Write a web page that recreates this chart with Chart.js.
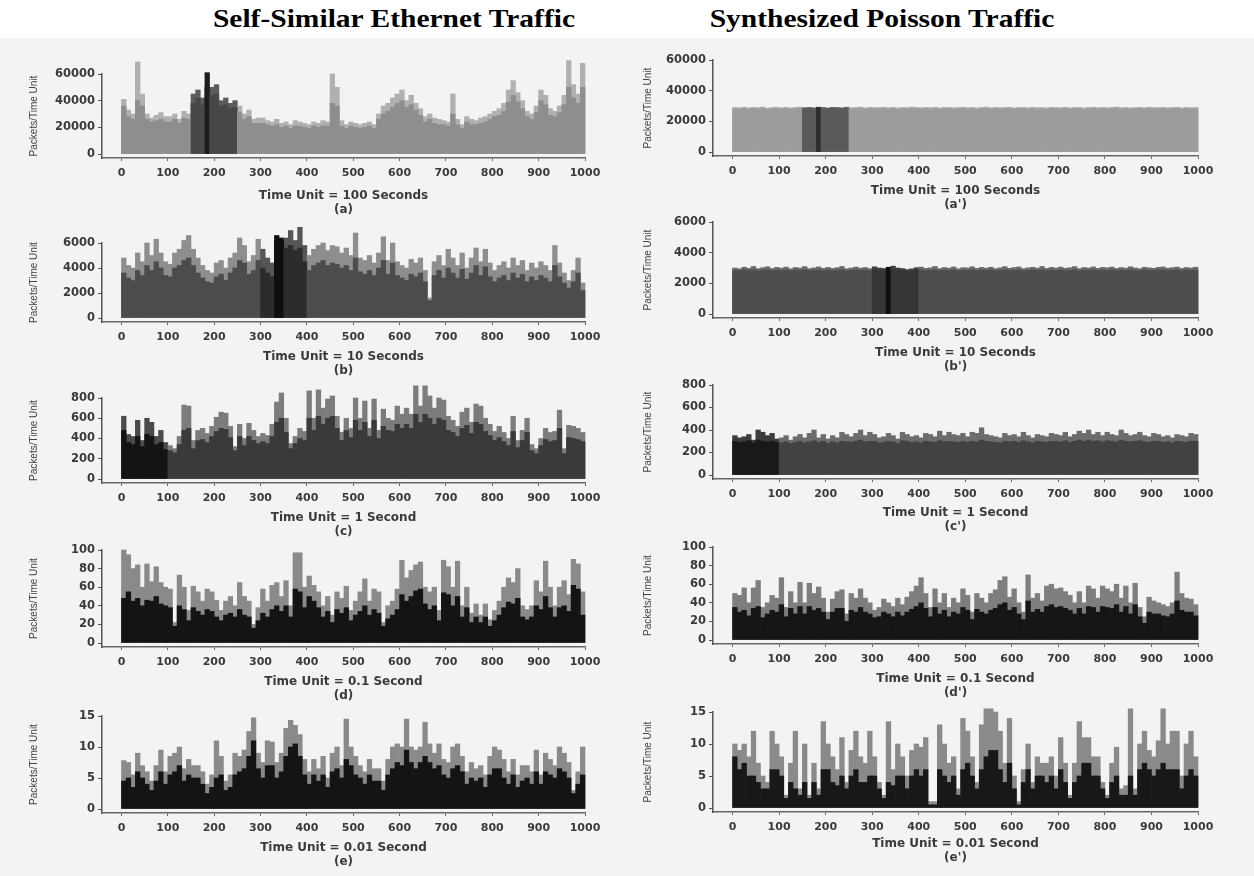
<!DOCTYPE html>
<html>
<head>
<meta charset="utf-8">
<script src="https://cdn.jsdelivr.net/npm/chart.js@4.4.1/dist/chart.umd.min.js"></script>
<style>
  body { margin: 0; width: 1254px; height: 876px; background: #f3f3f3; position: relative; overflow: hidden; }
  .hdr { position: absolute; left: 0; top: 0; width: 1254px; height: 38px; background: #fff; }
  .ttl { position: absolute; top: 7px; width: 420px; text-align: center; font: bold 25px/24px "Liberation Serif", "Times New Roman", serif; color: #000; transform: scaleX(1.18); }
  canvas { position: absolute; }
</style>
</head>
<body>
<div class="hdr"></div>
<div class="ttl" style="left:184px">Self-Similar Ethernet Traffic</div>
<div class="ttl" style="left:672px">Synthesized Poisson Traffic</div>
<script>
// x tick labels, shared by every panel
const xTicks = [0, 100, 200, 300, 400, 500, 600, 700, 800, 900, 1000];

// y tick labels per time scale
const ticks100s = [0, 20000, 40000, 60000];
const ticks10s = [0, 2000, 4000, 6000];
const ticks1s = [0, 200, 400, 600, 800];
const ticks01s = [0, 20, 40, 60, 80, 100];
const ticks001s = [0, 5, 10, 15];

// ---- Self-similar Ethernet traffic (peak of each 10-unit bin, and its typical level) ----
const aPeak = [
  41000,33000,30000,69000,45000,30000,27000,29000,31000,28000,
  28000,30000,26000,32000,30000,45000,48000,42000,61000,50000,
  52000,40000,42000,38000,40000,36000,30000,33000,26000,27000,
  27000,25000,24000,26000,23000,24000,22000,25000,24000,23000,
  22000,24000,23000,25000,24000,60000,50000,25000,22000,24000,
  23000,22000,23000,24000,22000,30000,36000,38000,42000,45000,
  48000,40000,44000,38000,34000,28000,30000,27000,26000,25000,
  24000,45000,26000,22000,28000,26000,25000,27000,28000,30000,
  32000,34000,38000,48000,55000,46000,40000,32000,30000,36000,
  48000,44000,34000,32000,36000,44000,70000,52000,45000,68000
];
const aBody = [
  36000,28000,26000,40000,36000,26000,24000,25000,26000,24000,
  24000,26000,23000,27000,26000,38000,42000,37000,50000,44000,
  45000,36000,37000,34000,35000,31000,26000,28000,23000,23000,
  23000,22000,21000,22000,20000,21000,19000,21000,21000,20000,
  19000,21000,20000,21000,21000,38000,36000,21000,19000,21000,
  20000,19000,20000,21000,19000,26000,30000,32000,35000,38000,
  40000,35000,37000,33000,29000,24000,26000,23000,22000,22000,
  21000,30000,22000,19000,24000,22000,22000,23000,24000,26000,
  28000,29000,32000,39000,44000,39000,34000,28000,26000,31000,
  40000,37000,29000,28000,31000,37000,50000,42000,38000,50000
];
const bPeak = [
  4800,4200,4000,5200,4500,6000,5000,6300,5200,4500,
  4300,5200,5500,6200,6600,5500,4800,4200,3800,3600,
  4400,4600,4000,4800,5200,6400,5800,4500,5000,6300,
  5500,4800,4400,6600,6400,6400,7000,6200,7700,5800,
  5000,5500,5800,6000,5400,5800,5700,5200,5600,5000,
  6800,4800,4600,5000,4400,5200,6500,4600,6000,4500,
  4200,4000,4700,4400,4800,3800,1600,4500,5000,4200,
  5500,4800,4200,5200,4000,4800,5600,4500,5500,4400,
  3800,4200,4500,4000,4800,4200,4600,3800,4400,4000,
  4500,4200,3800,5800,4400,3600,3000,3800,4800,2800
];
const bBody = [
  3600,3200,3000,3800,3400,4200,3800,4500,4000,3400,
  3300,4000,4200,4600,4800,4200,3600,3200,2900,2800,
  3300,3500,3000,3600,4000,4600,4400,3500,3800,4600,
  4000,3600,3300,6200,6200,5600,5800,5400,5600,4500,
  3800,4200,4400,4600,4200,4400,4300,4000,4200,3800,
  4800,3700,3500,3800,3400,4000,4600,3500,4400,3400,
  3200,3000,3500,3300,3600,2900,1400,3400,3800,3200,
  4000,3600,3200,3900,3100,3600,4200,3400,4100,3300,
  2900,3200,3400,3000,3600,3200,3500,2900,3300,3000,
  3400,3200,2900,4200,3300,2800,2400,2900,3600,2200
];
const cPeak = [
  620,440,420,580,380,600,560,420,480,360,
  330,300,420,730,720,380,480,500,450,520,
  610,660,650,520,320,540,400,550,480,420,
  450,430,540,760,850,600,350,420,500,470,
  870,600,880,700,790,820,620,460,600,500,
  800,600,770,500,790,480,690,600,580,720,
  640,700,640,920,720,920,820,700,800,780,
  620,580,520,660,700,560,740,720,600,540,
  470,520,460,400,620,380,480,600,340,300,
  400,500,460,470,680,300,530,520,500,460
];
const cBody = [
  480,360,340,420,320,440,420,340,360,290,
  280,260,340,480,500,300,380,390,360,420,
  470,500,490,410,280,420,330,420,380,350,
  370,350,420,560,600,460,300,350,400,380,
  600,480,620,540,600,620,500,380,480,410,
  580,480,560,420,580,400,520,480,470,540,
  500,540,500,640,560,640,600,540,600,580,
  480,460,420,500,530,450,560,540,470,430,
  380,410,370,330,470,310,380,460,280,250,
  330,390,370,380,500,250,410,400,390,370
];
const dPeak = [
  100,95,80,84,60,85,66,82,65,60,
  58,22,73,60,35,61,55,45,58,55,
  46,35,45,50,40,65,50,45,20,38,
  58,45,62,65,50,67,40,97,97,60,
  72,62,55,40,50,30,55,48,61,35,
  45,55,69,45,58,55,22,40,45,58,
  89,70,78,84,87,60,55,60,35,89,
  82,60,88,40,60,32,42,30,42,25,
  35,45,60,70,65,80,40,36,40,67,
  55,88,60,40,60,67,52,90,85,55
];
const dBody = [
  48,55,45,48,40,46,45,50,42,40,
  38,18,40,36,24,38,34,30,36,34,
  28,24,30,32,28,36,30,28,16,24,
  32,28,36,40,34,40,28,58,55,38,
  50,45,38,28,34,22,36,32,38,24,
  30,34,40,30,36,32,18,26,30,36,
  52,45,50,56,58,42,36,40,24,54,
  52,40,50,28,38,22,28,22,28,18,
  24,30,38,44,42,48,28,25,28,40,
  36,50,38,28,38,40,34,62,58,30
];
const ePeak = [
  7.8,7.5,5.5,9,7,6,4.5,7,9.5,6,
  8.5,9,10,6.5,8,7,7,6,4,5.5,
  11,8.5,4.5,5.5,9,8.5,9.5,12.5,14.7,9,
  7.5,11,10.8,7.5,9,13,14.3,13.5,12,8,
  6,8,6.5,8.5,5,9,10,7,14.5,10,
  8.5,7,6,8,6.5,6.5,4.5,8,10,10.5,
  10,14.5,10,9.5,10,14,10.5,9,10.5,8,
  7.5,10,10.5,8.5,6,7.5,6.5,7,5.5,8.5,
  10,9.5,8,6,8,5.5,7,7,6,9.5,
  5.5,9,8,7,10,9,7.5,3,6,10
];
const eBody = [
  4.5,5,3.5,6,5,4,3,4.5,6,4,
  5.5,6,7,4.5,5.5,5,5,4,2.5,3.5,
  5,5.5,3,3.5,5.5,6,6.5,8.5,11,6.5,
  5,7,7,5,6,8.5,10,10.5,8.5,5.5,
  4,5.5,4.5,5.5,3.5,6,6.5,5,8,7,
  5.5,5,4,5.5,4.5,4.5,3,5.5,6.5,7.5,
  7,9.5,7.5,6.5,7.5,8.5,7.5,6.5,7,5.5,
  5,6.5,7,6,4,5,4.5,5,3.5,5.5,
  6.5,6.5,5,4,5.5,3.5,4.5,5,4,6,
  4,6,5.5,5,6.5,6,5,2.5,4,5.5
];

// ---- Synthesized Poisson traffic ----
const apPeak = [
  29000,28800,29200,28700,29100,28900,29300,28600,29000,29200,
  28800,29100,28700,29000,29300,28900,29100,28800,29200,29000,
  28700,29100,29000,28800,29200,28900,29000,29300,28700,29100,
  28900,29000,29200,28800,29100,28700,29000,28900,29300,29000,
  28800,29100,28900,29200,28700,29000,29100,28800,29000,29200,
  28900,29100,28700,29000,29300,28800,29100,28900,29000,29200,
  28700,29000,29100,28800,29200,28900,29000,28700,29100,29000,
  28900,29200,28800,29000,29100,28700,29000,29200,28900,29100,
  28800,29000,29300,28900,29100,28700,29000,29100,28800,29200,
  29000,28900,29100,28800,29000,29200,28700,29100,28900,29000
];
const apBody = [
  28000,27800,28100,27900,28200,27800,28000,27700,28100,28000,
  27900,28100,27800,28000,28200,27900,28000,27800,28100,28000,
  27800,28000,28100,27900,28200,27800,28000,28100,27900,28000,
  27800,28100,28000,27900,28200,27800,28000,27900,28100,28000,
  27900,28000,27800,28100,27900,28000,28200,27800,28000,28100,
  27900,28000,27800,28100,28200,27900,28000,27800,28100,28000,
  27800,28000,28100,27900,28100,27800,28000,27900,28100,28000,
  27900,28100,27800,28000,28100,27900,28000,28200,27800,28000,
  27900,28000,28200,27800,28100,27900,28000,28100,27800,28100,
  28000,27900,28100,27800,28000,28200,27800,28000,27900,28000
];
const bpPeak = [
  3000,2950,3050,2980,3100,2960,3020,3080,2970,3040,
  2990,3060,2950,3030,3000,3090,2960,3010,3070,2980,
  3040,2970,3020,3100,2950,3000,3060,2990,3030,2960,
  3080,3000,2970,3050,3120,3000,2960,2900,2940,3020,
  3060,2980,3010,3100,2960,3030,2990,3070,2950,3020,
  3000,3080,2970,3040,2990,3050,2960,3010,3090,2980,
  3030,3070,2960,3010,3050,2990,3100,2970,3040,3000,
  3060,2980,3020,3090,2960,3030,3000,3070,2980,3040,
  3010,3060,2970,3030,2990,3080,3000,2960,3050,3010,
  2980,3040,3070,2990,3020,3060,2970,3030,3000,3050
];
const bpBody = [
  2850,2820,2870,2840,2880,2830,2860,2870,2820,2850,
  2840,2860,2810,2870,2850,2880,2830,2850,2870,2840,
  2860,2830,2850,2880,2820,2850,2870,2840,2860,2830,
  2880,2850,2830,2860,2890,2850,2820,2780,2800,2860,
  2870,2840,2850,2880,2830,2860,2840,2870,2820,2850,
  2850,2880,2830,2860,2840,2870,2830,2850,2880,2840,
  2860,2870,2830,2850,2870,2840,2880,2830,2860,2850,
  2870,2840,2850,2880,2830,2860,2850,2870,2840,2860,
  2850,2870,2830,2860,2840,2880,2850,2830,2870,2850,
  2840,2860,2870,2840,2850,2870,2830,2860,2850,2860
];
const cpPeak = [
  350,330,340,360,310,400,380,350,370,320,
  330,350,310,340,360,330,370,400,330,360,
  320,350,330,380,360,340,370,400,350,380,
  360,330,340,370,350,320,380,360,340,350,
  330,370,360,340,390,350,380,360,350,370,
  340,380,370,420,360,350,340,330,370,350,
  360,340,380,350,330,360,350,340,370,360,
  350,380,340,360,390,370,400,360,380,350,
  380,360,350,400,370,350,360,380,350,340,
  370,360,340,350,330,360,350,340,370,360
];
const cpBody = [
  300,290,295,305,285,310,300,295,300,290,
  285,295,280,290,300,285,295,305,290,300,
  280,295,285,300,295,290,300,310,295,300,
  300,285,290,300,295,280,305,300,290,295,
  285,300,295,290,305,295,300,295,290,300,
  290,300,295,310,300,295,290,285,300,295,
  300,290,305,295,285,300,295,290,300,300,
  295,305,290,300,310,300,310,300,305,295,
  305,300,295,310,300,295,300,305,295,290,
  300,300,290,295,285,300,295,290,300,300
];
const dpPeak = [
  50,48,56,40,56,64,35,40,48,45,
  67,35,52,40,62,40,61,50,57,45,
  30,44,52,54,28,50,45,55,45,40,
  32,35,44,40,36,45,38,46,52,58,
  67,50,35,55,40,50,35,45,40,55,
  48,30,50,45,40,50,54,64,68,46,
  55,40,30,70,45,50,42,58,60,55,
  56,52,48,40,52,40,58,55,45,58,
  55,52,60,45,58,40,61,35,25,46,
  42,40,38,36,40,73,50,45,44,38
];
const dpBody = [
  35,30,32,26,34,36,24,28,32,30,
  38,25,34,28,36,28,36,32,34,30,
  22,30,34,34,20,32,30,35,30,28,
  24,25,30,28,25,30,26,30,33,36,
  40,34,25,35,28,32,25,30,28,35,
  32,22,33,30,28,32,34,38,40,32,
  35,28,22,42,30,33,30,36,38,35,
  36,34,32,28,34,28,36,35,30,36,
  35,34,38,30,36,28,38,25,18,30,
  28,28,26,25,28,42,32,30,30,26
];
const epPeak = [
  10,9,10,8,12,7,5,4,12,10,
  8,2,7,12,3,10,2,7,3,13.5,
  10,8,6,11,4,9,12,8,7,12,
  8,4,2,13.5,6,10,8,5,9,10,
  9.5,11,1,1,13,10,7,8,3,14,
  12,8,4,13,15.5,15.5,15,12,7,14,
  5,1,6,10,4,8,7,7,8,5,
  11,7,2,7,13.5,11,11,8,8,4,
  2,7,9.5,3,3.5,15.5,3,10,12,9,
  8,10.5,15.5,10,12,12,5,10,12,8
];
const epBody = [
  8,6,7,5,5,4,3,3,6,6,
  5,1.5,4,3,2,4,1.5,4,2,6,
  6,4,3.5,5,3,5,6,4,4,5,
  5,3,1.5,4,3.5,5,5,3,5,6,
  5,6,0.5,0.5,6,5,4,5,2,6,
  7,5,3,6,8,9,9,6,4,7,
  3,0.5,4,6,3,5,5,4,5,3,
  6,4,1.5,4,5,7,7,5,5,3,
  1.5,4,5,2,2,5,2,6,7,6,
  5,6,7,6,6,6,3,5,6,5
];

// each bar covers 10 time units; centre of each bin
const binWidth = 10;
const timeBins = aPeak.map((_, i) => i * binWidth + binWidth / 2);

// column geometry (page pixels)
const cols = [
  { left: 0, width: 627, axisW: 102, padRight: 42, yTitlePad: 28 },
  { left: 627, width: 627, axisW: 86, padRight: 56, yTitlePad: 15 }
];

const panels = [
  { col: 0, top: 74, zero: 154, titleH: 58, yTicks: ticks100s, peak: aPeak, body: aBody,
    xTitle: ['Time Unit = 100 Seconds', '(a)'], zoom: [150, 250], dark: [180, 190],
    colors: { body: '#8e8e8e', tip: '#b0b0b0', hiBody: '#474747', hiTip: '#5c5c5c', dark: '#1c1c1c' } },
  { col: 0, top: 243, zero: 318, titleH: 55, yTicks: ticks10s, peak: bPeak, body: bBody,
    xTitle: ['Time Unit = 10 Seconds', '(b)'], zoom: [300, 400], dark: [330, 350],
    colors: { body: '#4c4c4c', tip: '#8e8e8e', hiBody: '#2c2c2c', hiTip: '#555555', dark: '#0e0e0e' } },
  { col: 0, top: 398, zero: 479, titleH: 55, yTicks: ticks1s, peak: cPeak, body: cBody,
    xTitle: ['Time Unit = 1 Second', '(c)'], zoom: [0, 100], dark: null,
    colors: { body: '#3a3a3a', tip: '#7c7c7c', hiBody: '#141414', hiTip: '#4a4a4a' } },
  { col: 0, top: 550, zero: 643, titleH: 55, yTicks: ticks01s, peak: dPeak, body: dBody,
    xTitle: ['Time Unit = 0.1 Second', '(d)'], zoom: null, dark: null,
    colors: { body: '#141414', tip: '#8a8a8a' } },
  { col: 0, top: 716, zero: 809, titleH: 55, yTicks: ticks001s, peak: ePeak, body: eBody,
    xTitle: ['Time Unit = 0.01 Second', '(e)'], zoom: null, dark: null,
    colors: { body: '#141414', tip: '#8a8a8a' } },
  { col: 1, top: 60, zero: 152, titleH: 55, yTicks: ticks100s, peak: apPeak, body: apBody,
    xTitle: ['Time Unit = 100 Seconds', "(a')"], zoom: [150, 250], dark: [180, 190],
    colors: { body: '#9c9c9c', tip: '#a9a9a9', hiBody: '#5a5a5a', hiTip: '#606060', dark: '#2e2e2e' } },
  { col: 1, top: 222, zero: 314, titleH: 55, yTicks: ticks10s, peak: bpPeak, body: bpBody,
    xTitle: ['Time Unit = 10 Seconds', "(b')"], zoom: [300, 400], dark: [330, 340],
    colors: { body: '#4e4e4e', tip: '#6a6a6a', hiBody: '#353535', hiTip: '#404040', dark: '#0e0e0e' } },
  { col: 1, top: 385, zero: 475, titleH: 54, yTicks: ticks1s, peak: cpPeak, body: cpBody,
    xTitle: ['Time Unit = 1 Second', "(c')"], zoom: [0, 100], dark: null,
    colors: { body: '#424242', tip: '#6c6c6c', hiBody: '#191919', hiTip: '#3c3c3c' } },
  { col: 1, top: 547, zero: 640, titleH: 55, yTicks: ticks01s, peak: dpPeak, body: dpBody,
    xTitle: ['Time Unit = 0.1 Second', "(d')"], zoom: null, dark: null,
    colors: { body: '#161616', tip: '#7e7e7e' } },
  { col: 1, top: 712, zero: 808, titleH: 52, yTicks: ticks001s, peak: epPeak, body: epBody,
    xTitle: ['Time Unit = 0.01 Second', "(e')"], zoom: null, dark: null,
    colors: { body: '#181818', tip: '#8a8a8a' } }
];

const axisGap = 4;   // px between bar baseline and x axis line
const padTop = 16;
const inkColor = '#3a3a3a';

function shade(p, layer) {
  return timeBins.map(x => {
    if (p.dark && x > p.dark[0] && x < p.dark[1]) return p.colors.dark;
    if (p.zoom && x > p.zoom[0] && x < p.zoom[1]) return layer === 'body' ? p.colors.hiBody : p.colors.hiTip;
    return layer === 'body' ? p.colors.body : p.colors.tip;
  });
}

panels.forEach(p => {
  const col = cols[p.col];
  const axisY = p.zero + axisGap;
  const cv = document.createElement('canvas');
  cv.width = col.width;
  cv.height = padTop + (axisY - p.top) + p.titleH;
  cv.style.left = col.left + 'px';
  cv.style.top = (p.top - padTop) + 'px';
  document.body.appendChild(cv);

  const yMax = p.yTicks[p.yTicks.length - 1];
  const yMin = -yMax * axisGap / (p.zero - p.top);

  const barStyle = { grouped: false, barPercentage: 1, categoryPercentage: 1, borderWidth: 0, clip: false };

  new Chart(cv, {
    type: 'bar',
    data: {
      datasets: [
        Object.assign({ data: p.body.map((v, i) => ({ x: timeBins[i], y: v })), backgroundColor: shade(p, 'body') }, barStyle),
        Object.assign({ data: p.peak.map((v, i) => ({ x: timeBins[i], y: v })), backgroundColor: shade(p, 'tip') }, barStyle)
      ]
    },
    options: {
      responsive: false,
      animation: false,
      devicePixelRatio: 1,
      layout: { padding: { left: 0, right: col.padRight, top: padTop, bottom: 0 } },
      plugins: { legend: { display: false }, tooltip: { enabled: false } },
      scales: {
        x: {
          type: 'linear',
          offset: false,
          min: -42,
          max: 1000,
          afterBuildTicks: s => { s.ticks = xTicks.map(v => ({ value: v })); },
          afterFit: s => { s.height = p.titleH; },
          ticks: {
            autoSkip: false, maxRotation: 0, padding: 6, color: inkColor,
            font: { family: 'DejaVu Sans', weight: 'bold', size: 11 },
            callback: v => String(v)
          },
          grid: { drawOnChartArea: false, tickLength: 3, color: '#666', offset: false },
          border: { color: '#666', width: 1.5 },
          title: {
            display: true, text: p.xTitle, color: inkColor, padding: 0,
            font: { family: 'DejaVu Sans', weight: 'bold', size: 12, lineHeight: 1.1 }
          }
        },
        y: {
          min: yMin,
          max: yMax,
          afterBuildTicks: s => { s.ticks = p.yTicks.map(v => ({ value: v })); },
          afterFit: s => { s.width = col.axisW; },
          ticks: {
            padding: 3, color: inkColor,
            font: { family: 'DejaVu Sans', weight: 'bold', size: 11.5 },
            callback: v => String(v)
          },
          grid: { drawOnChartArea: false, tickLength: 4, color: '#555' },
          border: { color: '#555', width: 1.5 },
          title: {
            display: true, text: 'Packets/Time Unit', color: '#444',
            padding: { top: col.yTitlePad, bottom: 0 },
            font: { family: 'Liberation Sans', size: 10 }
          }
        }
      }
    }
  });
});
</script>
</body>
</html>
